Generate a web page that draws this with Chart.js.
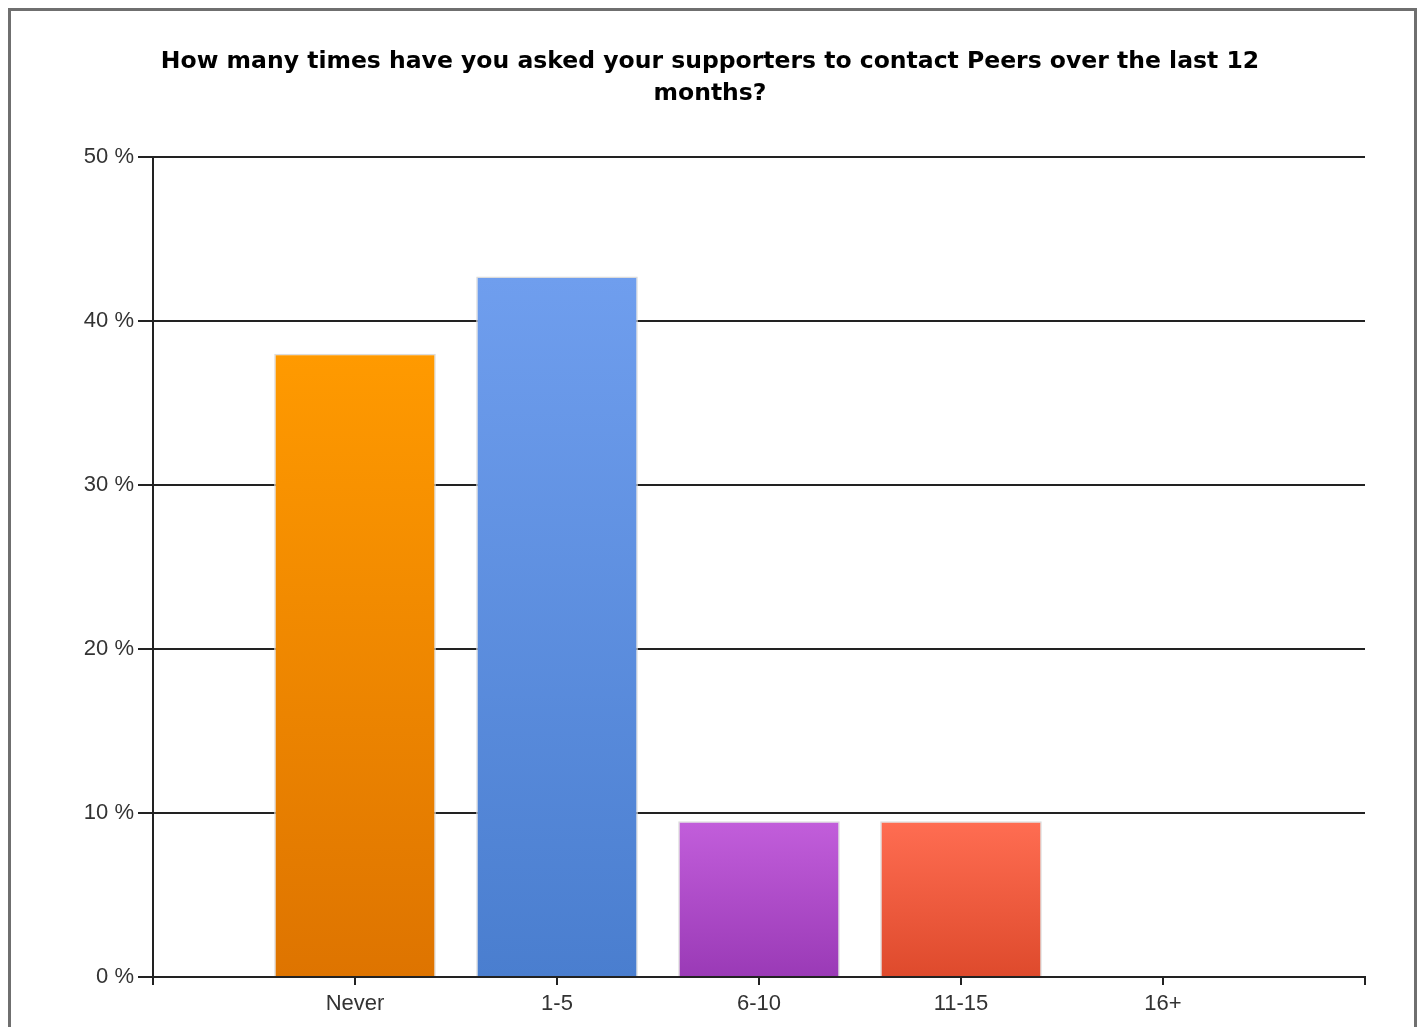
<!DOCTYPE html>
<html>
<head>
<meta charset="utf-8">
<title>Contacting Peers</title>
<script src="https://cdn.jsdelivr.net/npm/chart.js@4.4.1/dist/chart.umd.min.js"></script>
<style>
    html, body { margin: 0; padding: 0; background: #fff; overflow: hidden; }
    #frame {
        position: absolute; left: 8px; top: 8px;
        width: 1403px; height: 1100px;
        border: 3px solid #6f6f6f;
    }
    #chart { position: absolute; left: 0; top: 0; }
</style>
</head>
<body>
<div id="frame"></div>
<canvas id="chart" width="1420" height="1027"></canvas>
<script>
// Survey answers, percentage of respondents
const categories = ['Never', '1-5', '6-10', '11-15', '16+'];
const percents = [38.0, 42.7, 9.5, 9.5, 0];
const yTicks = [0, 10, 20, 30, 40, 50];

// top / bottom colours of each bar's gradient
const topColors = ['#ff9a00', '#6f9eee', '#c25edb', '#ff6d52', '#8a8a8a'];
const bottomColors = ['#de7400', '#4a7ecf', '#9a3ab6', '#de4a2c', '#666666'];

const titleLines = [
    'How many times have you asked your supporters to contact Peers over the last 12',
    'months?'
];

const ink = '#222';
const labelFont = { family: 'Liberation Sans, Arial, sans-serif', size: 22 };

function barGradient(ctx) {
    const chart = ctx.chart;
    const i = ctx.dataIndex;
    if (!chart.chartArea || i === undefined) return topColors[i] || topColors[0];
    const y = chart.scales.y;
    const top = y.getPixelForValue(percents[i]);
    const bottom = y.getPixelForValue(0);
    if (bottom - top < 1) return topColors[i];
    const g = chart.ctx.createLinearGradient(0, top, 0, bottom);
    g.addColorStop(0, topColors[i]);
    g.addColorStop(1, bottomColors[i]);
    return g;
}

new Chart(document.getElementById('chart').getContext('2d'), {
    type: 'bar',
    data: {
        datasets: [{
            data: percents.map((v, i) => ({ x: i, y: v })),
            backgroundColor: barGradient,
            borderColor: '#dcdcdc',
            borderWidth: 1.5,
            barPercentage: 0.8,
            categoryPercentage: 1
        }]
    },
    options: {
        responsive: false,
        animation: false,
        devicePixelRatio: 1,
        layout: { padding: { left: 55, right: 55, top: 0, bottom: 0 } },
        plugins: {
            legend: { display: false },
            tooltip: { enabled: false },
            title: {
                display: true,
                text: titleLines,
                color: '#000',
                font: { family: 'DejaVu Sans, Verdana, sans-serif', size: 23.5, weight: 'bold', lineHeight: 1.4 },
                padding: { top: 45, bottom: 46 }
            }
        },
        scales: {
            x: {
                type: 'linear',
                min: -1,
                max: 5,
                offset: false,
                afterBuildTicks: scale => {
                    scale.ticks = [-1, 0, 1, 2, 3, 4, 5].map(v => ({ value: v }));
                },
                afterFit: scale => { scale.height = 50; },
                ticks: {
                    color: '#333',
                    font: labelFont,
                    padding: 6,
                    autoSkip: false,
                    maxRotation: 0,
                    callback: v => categories[v] !== undefined ? categories[v] : ''
                },
                grid: {
                    offset: false,
                    drawOnChartArea: false,
                    drawTicks: true,
                    tickLength: 8,
                    color: ink,
                    lineWidth: 2
                },
                border: { color: ink, width: 2 }
            },
            y: {
                min: 0,
                max: 50,
                afterBuildTicks: scale => {
                    scale.ticks = yTicks.map(v => ({ value: v }));
                },
                afterFit: scale => { scale.width = 98; },
                ticks: {
                    color: '#333',
                    font: labelFont,
                    padding: 4,
                    callback: v => v + ' %'
                },
                grid: {
                    color: ink,
                    lineWidth: 2,
                    tickLength: 15
                },
                border: { color: ink, width: 2 }
            }
        }
    }
});
</script>
</body>
</html>
